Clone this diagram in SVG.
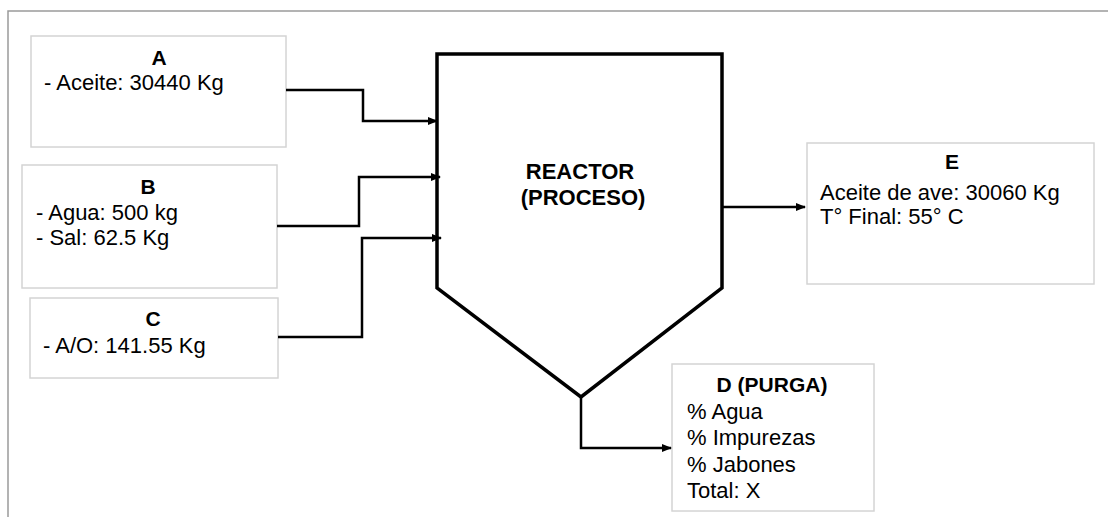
<svg xmlns="http://www.w3.org/2000/svg" width="1108" height="517" viewBox="0 0 1108 517">
<style>
.frame{fill:none;stroke:#9a9a9a;stroke-width:1.5}
.box{fill:#ffffff;stroke:#d4d4d4;stroke-width:1.5}
.reactor{fill:#ffffff;stroke:#000;stroke-width:3.5;stroke-linejoin:miter}
.conn{fill:none;stroke:#000;stroke-width:2.5}
.t{font-family:"Liberation Sans",Arial,sans-serif;font-size:22px;fill:#000}
.h{font-family:"Liberation Sans",Arial,sans-serif;font-size:21px;font-weight:bold;fill:#000;text-anchor:middle}
</style>
<defs>
<marker id="ah" markerWidth="10" markerHeight="8" refX="9" refY="4" orient="auto" markerUnits="userSpaceOnUse">
<path d="M0,0 L10,4 L0,8 z" fill="#000"/>
</marker>
</defs>
<rect width="1108" height="517" fill="#ffffff"/>
<path class="frame" d="M8,517 V11 H1108"/>

<g id="nodeA">
<rect class="box" x="31" y="36" width="255" height="111"/>
<text class="h" x="159" y="65">A</text>
<text class="t" x="44" y="90">- Aceite: 30440 Kg</text>
</g>
<g id="nodeB">
<rect class="box" x="22" y="165" width="255" height="123"/>
<text class="h" x="148" y="194">B</text>
<text class="t" x="36" y="220">- Agua: 500 kg</text>
<text class="t" x="36" y="245">- Sal: 62.5 Kg</text>
</g>
<g id="nodeC">
<rect class="box" x="30" y="298" width="248" height="80"/>
<text class="h" x="153" y="326">C</text>
<text class="t" x="43" y="353">- A/O: 141.55 Kg</text>
</g>
<g id="reactor">
<path class="reactor" d="M437,288 V54 H722 V288 L581,397 Z"/>
<text class="h" x="580" y="179" style="font-size:22px">REACTOR</text>
<text class="h" x="583" y="205" style="font-size:22px">(PROCESO)</text>
</g>
<g id="nodeE">
<rect class="box" x="807" y="143" width="287" height="141"/>
<text class="h" x="952" y="169">E</text>
<text class="t" x="820" y="200">Aceite de ave: 30060 Kg</text>
<text class="t" x="820" y="224">T° Final: 55° C</text>
</g>
<g id="nodeD">
<rect class="box" x="672" y="364" width="202" height="147"/>
<text class="h" x="772" y="392">D (PURGA)</text>
<text class="t" x="687" y="419">% Agua</text>
<text class="t" x="687" y="445">% Impurezas</text>
<text class="t" x="687" y="472">% Jabones</text>
<text class="t" x="687" y="498">Total: X</text>
</g>
<g id="connectors">
<path class="conn" d="M286,90 H363 V121 H437" marker-end="url(#ah)"/>
<path class="conn" d="M277,226 H359 V177 H440" marker-end="url(#ah)"/>
<path class="conn" d="M278,337 H362 V238 H441" marker-end="url(#ah)"/>
<path class="conn" d="M722,207 H805" marker-end="url(#ah)"/>
<path class="conn" d="M581,397 V448 H671" marker-end="url(#ah)"/>
</g>
</svg>
